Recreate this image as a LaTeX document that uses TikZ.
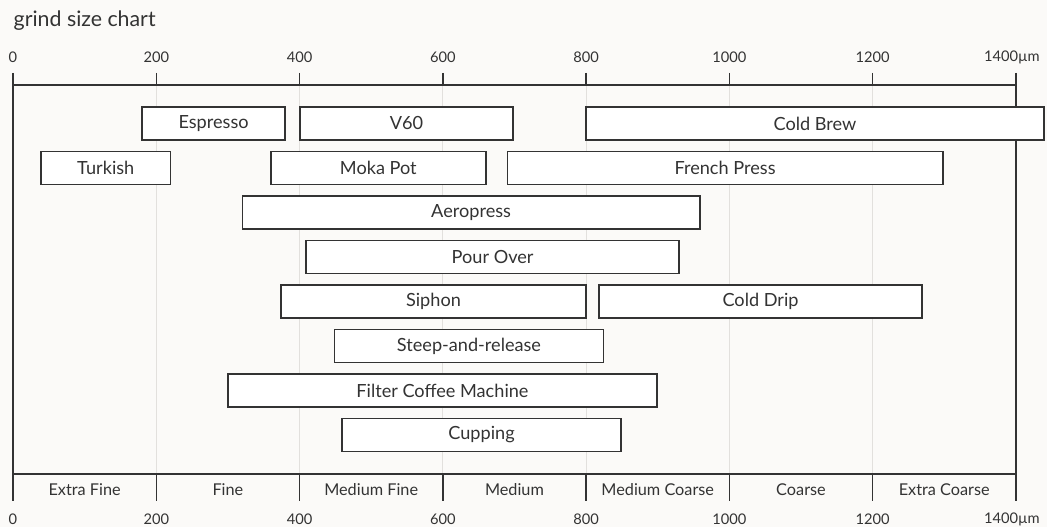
\documentclass[tikz,border=0pt]{standalone}
\usepackage{fontspec}
\setmainfont{Lato}
\usetikzlibrary{fit}
\definecolor{paper}{HTML}{FBFAF8}
\definecolor{ink}{HTML}{333333}
\definecolor{grid}{HTML}{E2E0DD}

\begin{document}
% x in micrometres, y in pixels from the top
\begin{tikzpicture}[x=0.5373pt, y=-0.75pt, line width=1.1pt, draw=ink, text=ink,
  bar/.style = {draw=ink, fill=white, inner sep=0pt, label={[font=\fontsize{13.6}{16}\selectfont, text=ink]center:#1}},
  num/.style = {font=\fontsize{11}{13}\selectfont},
  cat/.style = {font=\fontsize{12.2}{14}\selectfont}]
\fill[paper] (-18.15,0) rectangle (1443.4,527);
\useasboundingbox (-18.15,0) rectangle (1443.4,527);
\node[anchor=west, inner sep=0pt, font=\fontsize{16}{19}\selectfont] (title) at (0,21) {grind size chart};
% grid
\foreach \x in {200,400,...,1200}
  \draw[grid, line width=0.8pt] (\x,85) -- (\x,474);
% frame and axes
\draw (0,73) -- (0,501);
\draw (1400,73) -- (1400,501);
\draw (0,85) -- (1400,85);
\draw (0,474) -- (1400,474);
\foreach \x in {200,400,...,1200} {
  \draw (\x,73) -- (\x,85);
  \draw (\x,474) -- (\x,501);
}
\foreach \x in {0,200,...,1200} {
  \node[num] (top\x) at (\x,57) {\x};
  \node[num] (bot\x) at (\x,519) {\x};
}
\node[num, anchor=east] (top1400) at (1440.5,57) {1400µm};
\node[num, anchor=east] (bot1400) at (1440.5,519) {1400µm};
% grind classes
\node[cat] (xfine) at (100,490) {Extra Fine};
\node[cat] (fine) at (300,490) {Fine};
\node[cat] (mfine) at (500,490) {Medium Fine};
\node[cat] (medium) at (700,490) {Medium};
\node[cat] (mcoarse) at (900,490) {Medium Coarse};
\node[cat] (coarse) at (1100,490) {Coarse};
\node[cat] (xcoarse) at (1300,490) {Extra Coarse};
% brew methods
\node[bar=Espresso, fit={(180,107) (380,140)}] (espresso) {};
\node[bar=V60, fit={(400.6,107) (698,140)}] (v60) {};
\node[bar=Cold Brew, fit={(800,107) (1439,140)}] (coldbrew) {};
\node[bar=Turkish, fit={(39,151.5) (220,184.5)}] (turkish) {};
\node[bar=Moka Pot, fit={(360,151.5) (660,184.5)}] (moka) {};
\node[bar=French Press, fit={(690,151.5) (1298,184.5)}] (french) {};
\node[bar=Aeropress, fit={(320,196) (959,229)}] (aeropress) {};
\node[bar=Pour Over, fit={(409,240.5) (930,273.5)}] (pourover) {};
\node[bar=Siphon, fit={(374,285) (800,318)}] (siphon) {};
\node[bar=Cold Drip, fit={(818,285) (1269,318)}] (colddrip) {};
\node[bar=Steep-and-release, fit={(449,329.5) (824,362.5)}] (steep) {};
\node[bar=Filter Coffee Machine, fit={(300,374) (899,407)}] (filter) {};
\node[bar=Cupping, fit={(459,418.5) (849,451.5)}] (cupping) {};
\end{tikzpicture}
\end{document}
